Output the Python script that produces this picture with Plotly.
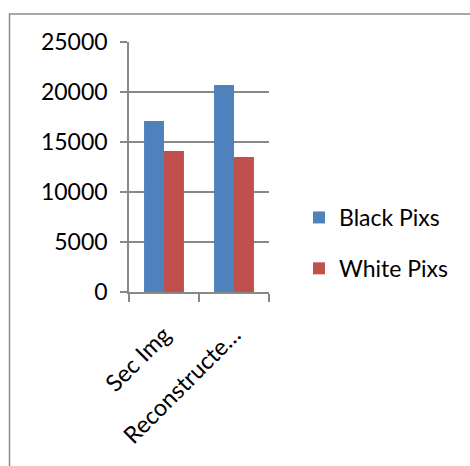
import plotly.graph_objects as go

categories = ["Sec Img", "Reconstructe…"]
black_pixs = [17100, 20700]
white_pixs = [14100, 13500]
series_names = ["Black Pixs", "White Pixs"]
y_ticks = [0, 5000, 10000, 15000, 20000, 25000]
y_tick_text = ["0", "5000", "10000", "15000", "20000", "25000"]

FONT = "Lato"
GRID = "#888888"

W, H = 470, 466
L, R, T, B = 129, 201, 42, 174
pw, ph = W - L - R, H - T - B

fig = go.Figure()
fig.add_trace(go.Bar(x=categories, y=black_pixs, name=series_names[0],
                     marker=dict(color="#4F81BD", line=dict(width=0)),
                     legendgroup="a"))
fig.add_trace(go.Bar(x=categories, y=white_pixs, name=series_names[1],
                     marker=dict(color="#C0504D", line=dict(width=0)),
                     legendgroup="b"))

def px_x(p):
    return (p - L) / pw

def px_y(p):
    return (H - B - p) / ph

fig.add_shape(type="rect", xref="paper", yref="paper",
              x0=px_x(9.5), x1=px_x(480), y0=px_y(480), y1=px_y(14),
              line=dict(color="#8c8c8c", width=1.5), layer="below")

fig.update_layout(
    width=W, height=H,
    margin=dict(l=L, r=R, t=T, b=B, pad=0),
    paper_bgcolor="white", plot_bgcolor="white",
    barmode="group", bargap=0.43, bargroupgap=0,
    font=dict(family=FONT, size=21, color="black"),
    showlegend=True,
    legend=dict(x=px_x(299), y=px_y(196), xanchor="left", yanchor="top",
                font=dict(size=23), traceorder="grouped", tracegroupgap=18,
                bgcolor="rgba(0,0,0,0)"),
    xaxis=dict(showgrid=False, showline=True, linecolor=GRID, linewidth=1.5,
               ticks="outside", ticklen=8, tickcolor=GRID, tickwidth=1.5,
               tickson="boundaries", tickangle=-45, ticklabelstandoff=18,
               tickfont=dict(size=23.5)),
    yaxis=dict(range=[0, 25000], tickvals=y_ticks, ticktext=y_tick_text,
               showgrid=True,
               gridcolor=GRID, gridwidth=1.5, showline=True, linecolor=GRID,
               linewidth=1.5, ticks="outside", ticklen=7, tickcolor=GRID,
               tickwidth=1.5, zeroline=False, ticklabelstandoff=8,
               tickfont=dict(size=23)),
)

fig.write_html("out.html", config={"displayModeBar": False},
               post_script="document.body.style.margin='0';document.body.style.overflow='hidden';")
